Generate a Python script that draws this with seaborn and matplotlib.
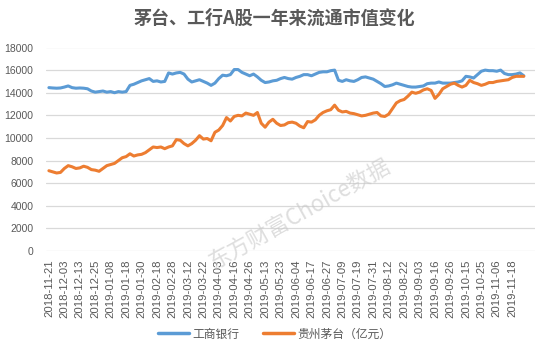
import numpy as np
import pandas as pd
import matplotlib
matplotlib.use("Agg")
import matplotlib.pyplot as plt
from matplotlib.lines import Line2D
import seaborn as sns

# ---------------- data ----------------
title = "茅台、工行A股一年来流通市值变化"
series_names = ["工商银行", "贵州茅台（亿元）"]
holidays = ["2018-12-31", "2019-01-01", "2019-02-04", "2019-02-05", "2019-02-06",
            "2019-02-07", "2019-02-08", "2019-04-05", "2019-05-01", "2019-05-02",
            "2019-05-03", "2019-06-07", "2019-09-13", "2019-10-01", "2019-10-02",
            "2019-10-03", "2019-10-04", "2019-10-07"]
start_date = "2018-11-21"
end_date = "2019-11-26"

tick_labels = ["2018-11-21", "2018-12-03", "2018-12-13", "2018-12-25", "2019-01-08",
               "2019-01-18", "2019-01-30", "2019-02-18", "2019-02-28", "2019-03-12",
               "2019-03-22", "2019-04-03", "2019-04-16", "2019-04-26", "2019-05-13",
               "2019-05-23", "2019-06-04", "2019-06-17", "2019-06-27", "2019-07-09",
               "2019-07-19", "2019-07-31", "2019-08-12", "2019-08-22", "2019-09-03",
               "2019-09-16", "2019-09-26", "2019-10-15", "2019-10-25", "2019-11-06",
               "2019-11-18"]

# values sampled every second trading day
icbc = [14450, 14420, 14400, 14420, 14500, 14600, 14450, 14400,
        14420, 14400, 14350, 14150, 14050, 14100, 14150, 14050,
        14100, 14000, 14100, 14050, 14100, 14650, 14750, 14900,
        15050, 15150, 15250, 15000, 15050, 14950, 15000, 15750,
        15650, 15750, 15800, 15650, 15200, 14950, 15050, 15150,
        15000, 14850, 14650, 14850, 15250, 15550, 15500, 15600,
        16050, 16050, 15800, 15650, 15500, 15650, 15400, 15100,
        14900, 14950, 15050, 15100, 15250, 15350, 15250, 15200,
        15350, 15450, 15600, 15600, 15500, 15650, 15800, 15850,
        15850, 15950, 16000, 15100, 15000, 15150, 15050, 15000,
        15150, 15350, 15400, 15300, 15200, 15000, 14800, 14550,
        14600, 14700, 14850, 14750, 14650, 14550, 14500, 14500,
        14550, 14600, 14800, 14850, 14850, 14950, 14850, 14850,
        14850, 14900, 14950, 15050, 15450, 15400, 15300, 15600,
        15900, 16000, 15950, 15950, 15900, 16000, 15700, 15600,
        15600, 15650, 15750, 15500]
moutai = [7100, 7000, 6900, 6950, 7300, 7550, 7450, 7300,
          7350, 7500, 7400, 7200, 7150, 7050, 7300, 7550,
          7650, 7750, 8000, 8250, 8350, 8600, 8400, 8500,
          8550, 8700, 8950, 9200, 9150, 9200, 9050, 9200,
          9300, 9850, 9800, 9500, 9300, 9500, 9800, 10200,
          9900, 9950, 9750, 10500, 10700, 11100, 11800, 11500,
          11900, 12000, 11950, 12200, 12100, 12000, 12250, 11300,
          10950, 11400, 11650, 11300, 11100, 11150, 11350, 11400,
          11300, 11050, 10900, 11450, 11400, 11600, 12000, 12250,
          12400, 12500, 12900, 12450, 12300, 12350, 12200, 12150,
          12050, 11950, 12000, 12100, 12200, 12250, 11950, 11900,
          12100, 12600, 13100, 13300, 13400, 13700, 14050, 13950,
          14050, 14250, 14350, 14200, 13500, 13850, 14350, 14550,
          14750, 14850, 14650, 14500, 14650, 15100, 14900, 14800,
          14650, 14750, 14900, 14900, 15000, 15050, 15100, 15150,
          15350, 15450, 15450, 15450]

# ---------------- build ----------------
trade_days = pd.bdate_range(start_date, end_date)
trade_days = trade_days[~trade_days.isin(pd.to_datetime(holidays))]
sample_days = trade_days[::2]
pos = [trade_days.get_loc(d) for d in sample_days]

df = pd.concat([
    pd.DataFrame({"pos": pos, "value": icbc, "series": series_names[0]}),
    pd.DataFrame({"pos": pos, "value": moutai, "series": series_names[1]}),
], ignore_index=True)

tick_pos = [trade_days.get_loc(pd.Timestamp(t)) for t in tick_labels]

sns.set_theme(style="white")
plt.rcParams["font.family"] = ["Liberation Sans", "Noto Sans CJK SC", "DejaVu Sans"]

colors = ["#5B9BD5", "#ED7D31"]
text_color = "#595959"

fig = plt.figure(figsize=(5.49, 3.51), dpi=100)
W, H = 549, 351
ax = fig.add_axes([46 / W, 1 - 251 / H, 489 / W, 203.5 / H])

sns.lineplot(data=df, x="pos", y="value", hue="series", palette=colors,
             linewidth=2.2, ax=ax, legend=False, sort=False)

ax.set_xlim(-1.5, 251.8)
ax.set_ylim(0, 18000)
ax.set_yticks(np.arange(0, 18001, 2000))
ax.set_xticks(tick_pos)
ax.set_xticklabels(tick_labels, rotation=90, fontsize=8.2, color=text_color)
ax.tick_params(axis="y", labelsize=7.5, labelcolor=text_color, pad=9, length=0)
ax.tick_params(axis="x", pad=6, length=0)
ax.set_xlabel("")
ax.set_ylabel("")
ax.yaxis.grid(True, color="#D9D9D9", linewidth=0.9)
ax.xaxis.grid(False)
ax.set_axisbelow(True)
for s in ax.spines.values():
    s.set_visible(False)

fig.text(300 / W, 1 - 214 / H, "东方财富Choice数据", ha="center", va="center",
         rotation=29, fontsize=16, color="#C8C8C8", alpha=0.6,
         family=["Noto Sans CJK SC", "DejaVu Sans"], zorder=10)

fig.text(0.5, 1 - 18 / H, title, ha="center", va="center", fontsize=13,
         fontweight="bold", color=text_color,
         family=["Noto Sans CJK SC", "DejaVu Sans"])

handles = [Line2D([0], [0], color=c, lw=2.5) for c in colors]
leg = fig.legend(handles, series_names, loc="center", bbox_to_anchor=(275 / W, 1 - 334 / H),
                 ncol=2, frameon=False, handlelength=2.6, columnspacing=2.0,
                 handletextpad=0.3,
                 prop={"family": ["Noto Sans CJK SC", "DejaVu Sans"], "size": 8.5})
for t in leg.get_texts():
    t.set_color(text_color)

fig.savefig("out.png", dpi=100)
